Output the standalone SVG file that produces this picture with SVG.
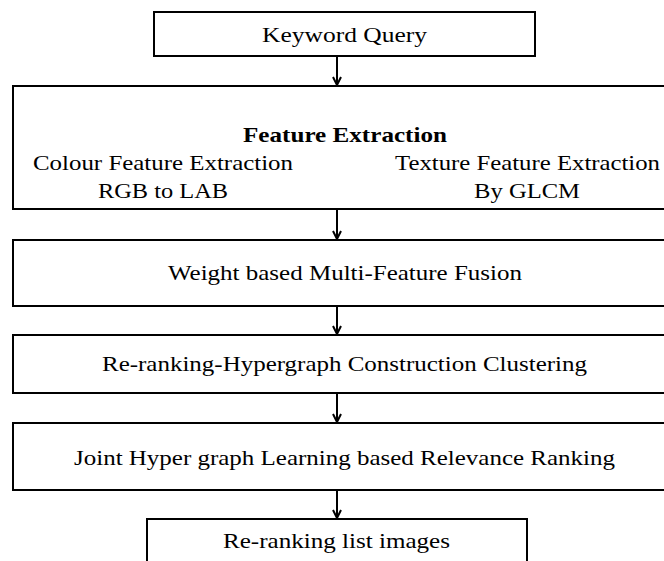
<svg xmlns="http://www.w3.org/2000/svg" width="664" height="561" viewBox="0 0 664 561">
<style>
.box{fill:#fff;stroke:#000;stroke-width:2}
text{font-family:'Liberation Serif','Times New Roman',serif;font-size:21px;fill:#000}
.b{font-weight:bold}
.edge{stroke:#000;stroke-width:2;fill:none}
</style>
<defs>
<marker id="ah" markerWidth="12" markerHeight="12" refX="10" refY="6" orient="auto" markerUnits="userSpaceOnUse" viewBox="0 0 12 12">
<polyline points="2,2 10,6 2,10" fill="none" stroke="#000" stroke-width="2"/>
</marker>
</defs>
<rect width="664" height="561" fill="#fff"/>
<g id="connectors">
<line class="edge" x1="337" y1="56" x2="337" y2="85" marker-end="url(#ah)"/>
<line class="edge" x1="337" y1="209" x2="337" y2="239" marker-end="url(#ah)"/>
<line class="edge" x1="337" y1="306" x2="337" y2="334" marker-end="url(#ah)"/>
<line class="edge" x1="337" y1="393" x2="337" y2="422" marker-end="url(#ah)"/>
<line class="edge" x1="337" y1="490" x2="337" y2="518" marker-end="url(#ah)"/>
</g>
<g id="n1">
<rect class="box" x="154" y="12" width="381" height="44"/>
<text x="262" y="42" textLength="165" lengthAdjust="spacingAndGlyphs">Keyword Query</text>
</g>
<g id="n2">
<rect class="box" x="13" y="86" width="670" height="123"/>
<text class="b" x="243" y="142" textLength="204" lengthAdjust="spacingAndGlyphs">Feature Extraction</text>
<text x="33" y="170" textLength="260" lengthAdjust="spacingAndGlyphs">Colour Feature Extraction</text>
<text x="98" y="198" textLength="130" lengthAdjust="spacingAndGlyphs">RGB to LAB</text>
<text x="395" y="170" textLength="265" lengthAdjust="spacingAndGlyphs">Texture Feature Extraction</text>
<text x="474" y="198" textLength="106" lengthAdjust="spacingAndGlyphs">By GLCM</text>
</g>
<g id="n3">
<rect class="box" x="13" y="240" width="670" height="66"/>
<text x="168" y="280" textLength="354" lengthAdjust="spacingAndGlyphs">Weight based Multi-Feature Fusion</text>
</g>
<g id="n4">
<rect class="box" x="13" y="335" width="670" height="58"/>
<text x="102" y="371" textLength="485" lengthAdjust="spacingAndGlyphs">Re-ranking-Hypergraph Construction Clustering</text>
</g>
<g id="n5">
<rect class="box" x="13" y="423" width="670" height="67"/>
<text x="74" y="465" textLength="541" lengthAdjust="spacingAndGlyphs">Joint Hyper graph Learning based Relevance Ranking</text>
</g>
<g id="n6">
<rect class="box" x="147" y="519" width="380" height="60"/>
<text x="223" y="548" textLength="227" lengthAdjust="spacingAndGlyphs">Re-ranking list images</text>
</g>
</svg>
